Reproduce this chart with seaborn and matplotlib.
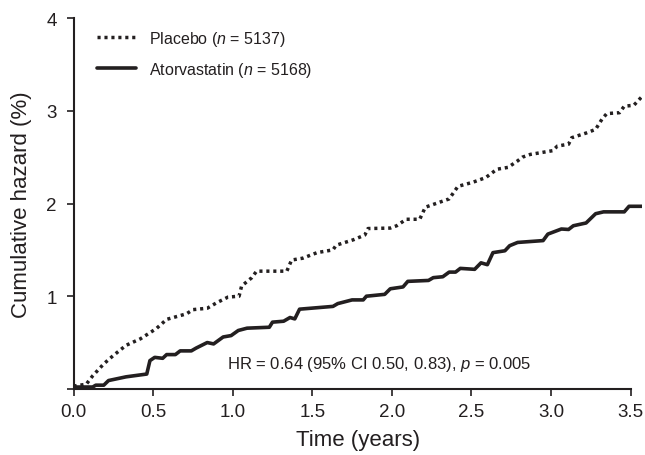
import numpy as np
import pandas as pd
import matplotlib
matplotlib.use('Agg')
import matplotlib.pyplot as plt
import seaborn as sns

# ================= DADOS =================
TEMPO_PLACEBO = [0, 0.08, 0.12, 0.19, 0.25, 0.33, 0.42, 0.52, 0.585, 0.71,
                 0.75, 0.84, 0.9, 0.97, 1.04, 1.056, 1.12, 1.15, 1.34, 1.37,
                 1.44, 1.53, 1.63, 1.65, 1.76, 1.83, 1.85, 1.99, 2.03, 2.09,
                 2.175, 2.21, 2.36, 2.415, 2.51, 2.59, 2.66, 2.73, 2.79, 2.82,
                 2.87, 3.01, 3.04, 3.11, 3.13, 3.22, 3.28, 3.32, 3.35, 3.43,
                 3.46, 3.52, 3.58]
HAZARD_PLACEBO = [0.03, 0.05, 0.14, 0.27, 0.36, 0.47, 0.54, 0.65, 0.75, 0.81,
                  0.855, 0.87, 0.93, 0.99, 1.0, 1.11, 1.2, 1.27, 1.27, 1.39,
                  1.41, 1.47, 1.50, 1.55, 1.61, 1.66, 1.73, 1.735, 1.76, 1.83,
                  1.83, 1.96, 2.05, 2.185, 2.23, 2.28, 2.37, 2.39, 2.46, 2.50,
                  2.53, 2.57, 2.62, 2.64, 2.71, 2.76, 2.80, 2.91, 2.97, 2.98,
                  3.05, 3.06, 3.17]

TEMPO_ATORVA = [0, 0.12, 0.14, 0.19, 0.22, 0.33, 0.46, 0.48, 0.51, 0.56,
                0.585, 0.64, 0.67, 0.74, 0.77, 0.84, 0.88, 0.94, 0.99, 1.035,
                1.09, 1.23, 1.25, 1.32, 1.36, 1.39, 1.42, 1.63, 1.66, 1.75,
                1.82, 1.84, 1.955, 1.99, 2.07, 2.10, 2.23, 2.26, 2.32, 2.36,
                2.40, 2.43, 2.52, 2.56, 2.60, 2.635, 2.71, 2.74, 2.79, 2.95,
                2.98, 3.065, 3.11, 3.14, 3.22, 3.28, 3.33, 3.46, 3.49, 3.58]
HAZARD_ATORVA = [0.02, 0.02, 0.04, 0.04, 0.09, 0.13, 0.16, 0.305, 0.34, 0.33,
                 0.37, 0.37, 0.41, 0.41, 0.44, 0.50, 0.485, 0.56, 0.575, 0.63,
                 0.655, 0.665, 0.72, 0.73, 0.77, 0.755, 0.86, 0.89, 0.92, 0.96,
                 0.96, 1.0, 1.02, 1.08, 1.10, 1.16, 1.17, 1.20, 1.21, 1.26,
                 1.26, 1.30, 1.29, 1.36, 1.34, 1.47, 1.49, 1.545, 1.58, 1.60,
                 1.67, 1.725, 1.72, 1.76, 1.79, 1.89, 1.91, 1.91, 1.97, 1.97]

LABEL_PLACEBO = 'Placebo ($n$ = 5137)'
LABEL_ATORVA = 'Atorvastatin ($n$ = 5168)'
TEXTO_HR = 'HR = 0.64 (95% CI 0.50, 0.83), $p$ = 0.005'

X_TICKS = [0.0, 0.5, 1.0, 1.5, 2.0, 2.5, 3.0, 3.5]
Y_TICKS = [0, 1, 2, 3, 4]
Y_TICK_LABELS = ['', '1', '2', '3', '4']

COR = '#231f20'

# ================= ESTILO =================
sns.set_style('ticks')
plt.rcParams['font.family'] = ['Liberation Sans', 'DejaVu Sans']
plt.rcParams['mathtext.fontset'] = 'custom'
plt.rcParams['mathtext.rm'] = 'Liberation Sans'
plt.rcParams['mathtext.it'] = 'Liberation Sans:italic'
plt.rcParams['text.color'] = COR
plt.rcParams['axes.labelcolor'] = COR
plt.rcParams['xtick.color'] = COR
plt.rcParams['ytick.color'] = COR

# ================= PLOTAGEM =================
df_placebo = pd.DataFrame({'Tempo': TEMPO_PLACEBO, 'Hazard': HAZARD_PLACEBO})
df_atorva = pd.DataFrame({'Tempo': TEMPO_ATORVA, 'Hazard': HAZARD_ATORVA})

fig = plt.figure(figsize=(6.45, 4.56), dpi=100)
ax = fig.add_axes([0.114, 0.145, 0.881, 0.813])

sns.lineplot(data=df_placebo, x='Tempo', y='Hazard', ax=ax, sort=False,
             estimator=None, color=COR, linewidth=2.5, label=LABEL_PLACEBO,
             linestyle=(0, (0.9, 1.1)), dash_capstyle='butt')
sns.lineplot(data=df_atorva, x='Tempo', y='Hazard', ax=ax, sort=False,
             estimator=None, color=COR, linewidth=2.6, label=LABEL_ATORVA)

# texto do hazard ratio
ax.text(1.92, 0.27, TEXTO_HR, ha='center', va='center', fontsize=12)

ax.set_xlim(0, 3.57)
ax.set_ylim(0, 4)
ax.set_xticks(X_TICKS)
ax.set_xticklabels([f'{t:.1f}' for t in X_TICKS])
ax.set_yticks(Y_TICKS)
ax.set_yticklabels(Y_TICK_LABELS)
ax.tick_params(labelsize=13.5, length=5, width=1.2)
ax.tick_params(axis='x', pad=5)
ax.tick_params(axis='y', pad=7)

ax.set_xlabel('Time (years)', fontsize=16, labelpad=7)
ax.set_ylabel('Cumulative hazard (%)', fontsize=16, labelpad=10)

sns.despine(ax=ax)
ax.spines['left'].set_linewidth(1.5)
ax.spines['bottom'].set_linewidth(1.5)
ax.spines['left'].set_color(COR)
ax.spines['bottom'].set_color(COR)
ax.spines['bottom'].set_bounds(0, 3.5)

leg = ax.legend(loc='upper left', bbox_to_anchor=(0.041, 0.972), frameon=False,
                fontsize=11.5, handlelength=2.45, handletextpad=0.8,
                labelspacing=0.75, borderpad=0, borderaxespad=0)

fig.savefig('out.png', dpi=100)
